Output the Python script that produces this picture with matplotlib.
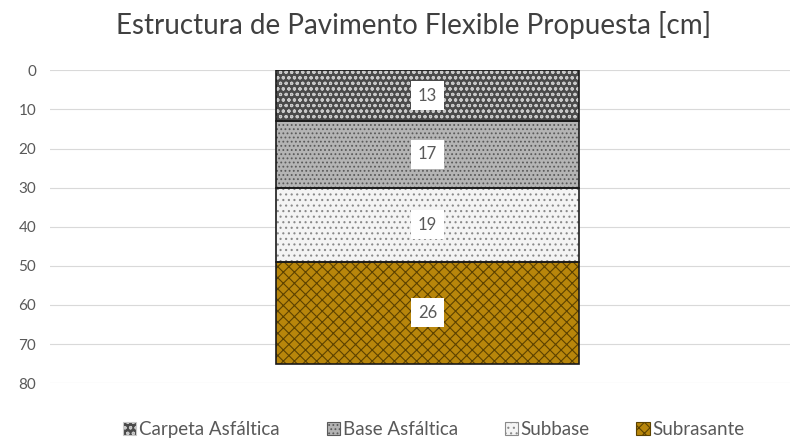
import matplotlib
matplotlib.use("Agg")
import matplotlib.pyplot as plt
from matplotlib.patches import Patch

# ── data ──────────────────────────────────────────────────────────────────────
capas = ["Carpeta Asfáltica", "Base Asfáltica", "Subbase", "Subrasante"]
espesores = [13, 17, 19, 26]
y_ticks = [0, 10, 20, 30, 40, 50, 60, 70, 80]

# ── styles ────────────────────────────────────────────────────────────────────
FACE = ["#4a4a4a", "#b4b4b4", "#f4f4f4", "#b8860b"]
HATCH_COLOR = ["#c8c8c8", "#5a5a5a", "#8a8a8a", "#5c4200"]
HATCHES = ["ooo", "....", "...", "xxx"]
TEXT_GRAY = "#595959"

plt.rcParams["font.family"] = ["Lato", "DejaVu Sans"]
plt.rcParams["hatch.linewidth"] = 0.8

fig = plt.figure(figsize=(7.96, 4.42), dpi=100)
ax = fig.add_axes([0.063, 0.133, 0.93, 0.708])

bottom = 0
for capa, h, fc, hc, hatch in zip(capas, espesores, FACE, HATCH_COLOR, HATCHES):
    ax.bar(0, h, bottom=bottom, width=0.41, color=fc, edgecolor=hc,
           hatch=hatch, linewidth=0, zorder=2)
    ax.bar(0, h, bottom=bottom, width=0.41, fill=False, edgecolor="#1a1a1a",
           linewidth=1.2, zorder=3)
    ax.text(0, bottom + h / 2, str(h), ha="center", va="center", fontsize=12,
            color=TEXT_GRAY, zorder=4,
            bbox=dict(boxstyle="square,pad=0.4", fc="white", ec="none"))
    bottom += h

ax.set_xlim(-0.51, 0.49)
ax.set_ylim(80, 0)
ax.set_yticks(y_ticks)
ax.set_xticks([])
ax.tick_params(axis="y", length=0, labelsize=11, colors=TEXT_GRAY, pad=10)
ax.grid(axis="y", color="#d9d9d9", linewidth=0.8, zorder=0)
for s in ax.spines.values():
    s.set_visible(False)

fig.suptitle("Estructura de Pavimento Flexible Propuesta [cm]", x=0.52, y=0.975,
             fontsize=20, color="#404040")

handles = [Patch(facecolor=fc, edgecolor=hc, hatch=hatch, linewidth=0.8)
           for fc, hc, hatch in zip(FACE, HATCH_COLOR, HATCHES)]
fig.legend(handles, capas, loc="lower center", bbox_to_anchor=(0.545, -0.03),
           ncol=4, frameon=False, fontsize=13.5, labelcolor=TEXT_GRAY,
           handlelength=0.7, handleheight=0.7, handletextpad=0.15, columnspacing=2.5)

fig.savefig("out.png", dpi=100)
